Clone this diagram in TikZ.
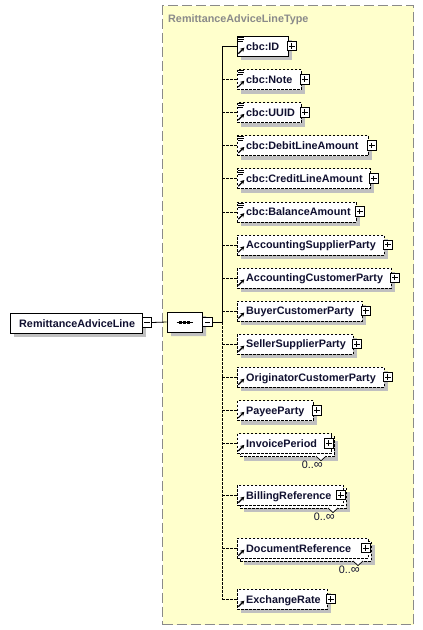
\documentclass[tikz,border=0pt]{standalone}
\usepackage{fontspec}
\setmainfont{Liberation Sans}
\usetikzlibrary{shadows,shapes.misc,arrows.meta}
\definecolor{cont}{HTML}{FFFFCC}
\definecolor{shad}{HTML}{C0C0C0}
\definecolor{frame}{HTML}{8A8A8A}
\definecolor{txt}{HTML}{101030}
\tikzset{
  eltext/.style={font=\bfseries\fontsize{10.8}{12}\selectfont, text=txt, inner sep=0pt, anchor=base west},
  multtext/.style={font=\fontsize{10.8}{12}\selectfont, text=txt, inner sep=0pt, anchor=base east},
  elbox/.style={draw=black, fill=white, line width=0.8pt, rectangle, inner sep=0pt, minimum height=20pt, anchor=north west},
  opt/.style={dash pattern=on 2.5pt off 1.5pt},
  shd/.style={general shadow={fill=shad, shadow xshift=4pt, shadow yshift=-4pt}},
  btn/.style={draw=black, fill=white, line width=0.7pt, rectangle, minimum size=9.5pt, inner sep=0pt},
  minusbtn/.style={btn, path picture={\draw[line width=0.7pt] ([xshift=2pt]path picture bounding box.west) -- ([xshift=-2pt]path picture bounding box.east);}},
  plusbtn/.style={btn, path picture={\draw[line width=0.7pt] ([xshift=2pt]path picture bounding box.west) -- ([xshift=-2pt]path picture bounding box.east) ([yshift=-2pt]path picture bounding box.north) -- ([yshift=2pt]path picture bounding box.south);}},
  conn/.style={line width=0.8pt, draw=black},
}
% icons
\newcommand\arricon[1]{\draw[line width=1.2pt, -{Stealth[length=4pt,width=4.5pt]}] (238.3,#1+17.7) -- (244.3,#1+11.7);}
\newcommand\linesicon[1]{\draw[line width=0.8pt] (238,#1+1.5) -- (244,#1+1.5) (238,#1+3.5) -- (244,#1+3.5) (238,#1+5.5) -- (242.5,#1+5.5);}
% name, label, top, plus left, style, cbc icon (1/0)
\newcommand\kid[6]{%
  \node[elbox, shd, #5, minimum width={#4+1-237}] (#1) at (237,#3) {};
  \node[eltext] (#1-t) at (246,#3+14) {#2};
  \node[plusbtn] (#1-b) at (#4+4.75,#3+10) {};
  \ifnum#6=1 \linesicon{#3}\fi
  \arricon{#3}
  \draw[conn, #5] (#1.west -| spine) -- (#1.west);
}
% name, label, top, plus left
\newcommand\multikid[4]{%
  \node[elbox, shd, opt, minimum width={#4+7-237}] (#1-back) at (240,#3+3) {};
  \draw[line width=0.7pt, fill=white] (#4-8,#3+23) -- (#4-3,#3+27.5) -- (#4+2,#3+23);
  \node[elbox, opt, minimum width={#4+7-237}] (#1) at (237,#3) {};
  \node[eltext] (#1-t) at (246,#3+14) {#2};
  \node[plusbtn] (#1-b) at (#4+4.75,#3+10) {};
  \arricon{#3}
  \node[multtext] (#1-m) at (#4-1,#3+35) {0..\fontsize{12.5}{12}\selectfont∞};
  \draw[conn, opt] (#1.west -| spine) -- (#1.west);
}
\begin{document}
\begin{tikzpicture}[x=1pt,y=-1pt]
\useasboundingbox (0,0) rectangle (423,630);
% type container
\node[draw=frame, fill=cont, line width=1.3pt, dash pattern=on 10pt off 4pt, rectangle, inner sep=0pt,
      minimum width=251pt, minimum height=619pt, anchor=north west] (type) at (162,5) {};
\node[eltext, text=frame] (title) at (168,22) {RemittanceAdviceLineType};
% root element
\node[elbox, shd, minimum width=132pt] (root) at (10,313) {};
\node[eltext] (root-t) at (19,327) {RemittanceAdviceLine};
\node[minusbtn] (root-b) at (146.75,322.5) {};
% sequence compositor
\node[chamfered rectangle, chamfered rectangle xsep=6pt, chamfered rectangle ysep=6pt, draw=black, fill=white,
      line width=0.8pt, inner sep=0pt, minimum width=35pt, minimum height=20pt, shd] (seq) at (184.5,322) {};
\draw[line width=1pt] ([xshift=-8pt]seq.center) -- ([xshift=8pt]seq.center);
\foreach \dx in {-4,0,4} \fill ([xshift=\dx pt]seq.center) ++(-1.5,-1.5) rectangle ++(3,3);
\node[minusbtn] (seq-b) at (207.5,322) {};
\coordinate (spine) at (222,322);
\draw[conn] (root-b.east) -- (seq.west);
\draw[conn] (seq-b.east) -- (spine);
% children
\kid{id}{cbc:ID}{36}{287}{}{1}
\kid{note}{cbc:Note}{69.1}{300}{opt}{1}
\kid{uuid}{cbc:UUID}{102.2}{300}{opt}{1}
\kid{debit}{cbc:DebitLineAmount}{135.3}{367}{opt}{1}
\kid{credit}{cbc:CreditLineAmount}{168.4}{369}{opt}{1}
\kid{balance}{cbc:BalanceAmount}{201.5}{355}{opt}{1}
\kid{asp}{AccountingSupplierParty}{234.6}{383}{opt}{0}
\kid{acp}{AccountingCustomerParty}{267.7}{390}{opt}{0}
\kid{bcp}{BuyerCustomerParty}{300.8}{361}{opt}{0}
\kid{ssp}{SellerSupplierParty}{333.9}{352}{opt}{0}
\kid{ocp}{OriginatorCustomerParty}{367}{383}{opt}{0}
\kid{payee}{PayeeParty}{400.1}{312}{opt}{0}
\multikid{invoice}{InvoicePeriod}{433.2}{324}
\multikid{billing}{BillingReference}{485}{336}
\multikid{docref}{DocumentReference}{538}{361}
\kid{exch}{ExchangeRate}{589}{326}{opt}{0}
% spine
\draw[conn] (id.west -| spine) -- (spine);
\draw[conn, opt] (spine) -- (exch.west -| spine);
\end{tikzpicture}
\end{document}
